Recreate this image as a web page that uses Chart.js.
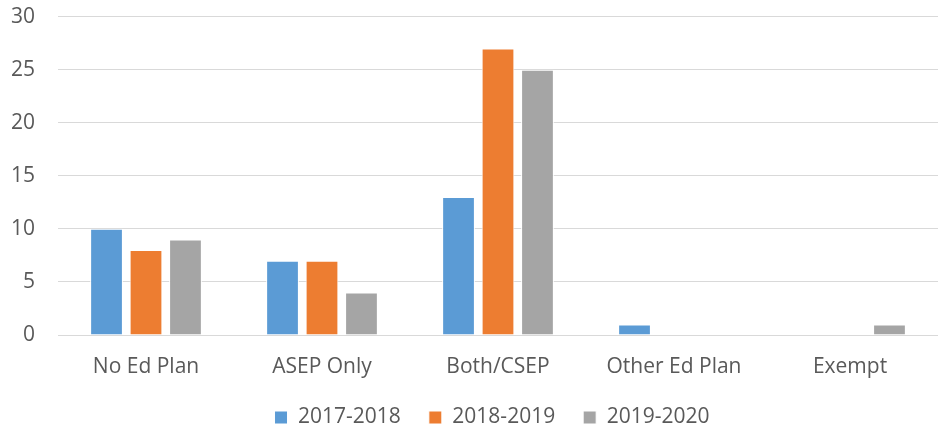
<!DOCTYPE html>
<html>
<head>
<meta charset="utf-8">
<script src="https://cdn.jsdelivr.net/npm/chart.js@4"></script>
<style>
  html, body { margin: 0; padding: 0; background: #fff; }
  #wrap { width: 938px; height: 433px; }
</style>
</head>
<body>
<div id="wrap"><canvas id="chart" width="938" height="433"></canvas></div>
<script>
// values
const categories = ["No Ed Plan", "ASEP Only", "Both/CSEP", "Other Ed Plan", "Exempt"];
const seriesNames = ["2017-2018", "2018-2019", "2019-2020"];
const values2017 = [10, 7, 13, 1, 0];
const values2018 = [8, 7, 27, 0, 0];
const values2019 = [9, 4, 25, 0, 1];
const seriesColors = ["#5B9BD5", "#ED7D31", "#A5A5A5"];

const textColor = "#595959";
const gridColor = "#D9D9D9";
const font = { family: "'Open Sans', sans-serif", size: 21 };

// legend: wide item spacing, small reserved height, then moved up/right like the original
const legendTweak = {
    id: "legendTweak",
    beforeInit(chart) {
        const fit = chart.legend.fit;
        chart.legend.fit = function () {
            fit.call(this);
            this.height = 30;
        };
    },
    afterLayout(chart) {
        const lg = chart.legend;
        lg.left += 23;
        lg.right += 23;
        lg.top -= 24;
    },
};

const allValues = [values2017, values2018, values2019];

new Chart(document.getElementById("chart"), {
    type: "bar",
    data: {
        labels: categories,
        datasets: seriesNames.map((name, i) => ({
            label: name,
            data: allValues[i],
            backgroundColor: seriesColors[i],
            borderColor: "#ffffff",
            borderWidth: 1,
            barPercentage: 0.83,
            categoryPercentage: 0.673,
        })),
    },
    options: {
        responsive: false,
        animation: false,
        layout: { padding: 0 },
        plugins: {
            legend: {
                position: "bottom",
                labels: {
                    color: textColor,
                    font: font,
                    boxWidth: 13,
                    boxHeight: 13,
                    padding: 28,
                },
            },
            tooltip: { enabled: false },
        },
        scales: {
            x: {
                grid: { display: false },
                border: { display: false },
                ticks: { color: textColor, font: font, padding: 11 },
                afterFit(scale) { scale.height = 68; },
            },
            y: {
                min: 0,
                max: 30,
                ticks: { stepSize: 5, color: textColor, font: font, padding: 4 },
                grid: {
                    color: gridColor,
                    lineWidth: 1,
                    drawTicks: true,
                    tickLength: 19,
                    tickColor: "rgba(0,0,0,0)",
                },
                border: { display: false },
                afterFit(scale) { scale.width = 58; },
            },
        },
    },
    plugins: [legendTweak],
});
</script>
</body>
</html>
